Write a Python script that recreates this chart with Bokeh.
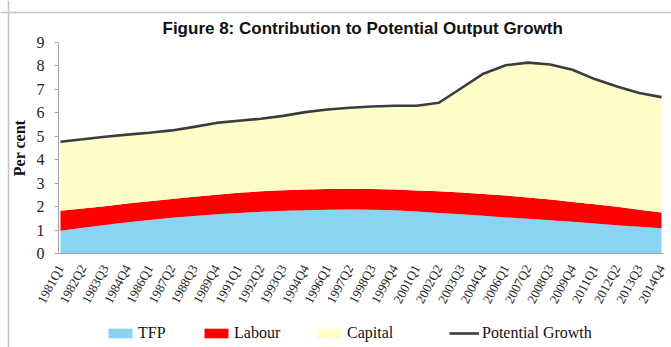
from bokeh.plotting import figure
from bokeh.models import (ColumnDataSource, Range1d, FixedTicker, Legend, LegendItem,
                          Span, Label)
from bokeh.embed import file_html
from bokeh.resources import INLINE

# ---- data ----
quarters = ["1981Q1", "1982Q2", "1983Q3", "1984Q4", "1986Q1", "1987Q2", "1988Q3",
            "1989Q4", "1991Q1", "1992Q2", "1993Q3", "1994Q4", "1996Q1", "1997Q2",
            "1998Q3", "1999Q4", "2001Q1", "2002Q2", "2003Q3", "2004Q4", "2006Q1",
            "2007Q2", "2008Q3", "2009Q4", "2011Q1", "2012Q2", "2013Q3", "2014Q4"]
tfp = [0.97, 1.10, 1.22, 1.33, 1.43, 1.52, 1.60, 1.67, 1.73, 1.78, 1.82, 1.85, 1.87, 1.88,
       1.87, 1.85, 1.79, 1.73, 1.67, 1.61, 1.54, 1.48, 1.42, 1.35, 1.28, 1.20, 1.14, 1.08]
labour = [0.85, 0.82, 0.80, 0.80, 0.80, 0.80, 0.82, 0.84, 0.86, 0.87, 0.88, 0.88, 0.88, 0.88,
          0.88, 0.88, 0.90, 0.92, 0.93, 0.93, 0.93, 0.91, 0.88, 0.85, 0.82, 0.79, 0.73, 0.67]
capital = [2.95, 2.95, 2.96, 2.94, 2.92, 2.93, 2.98, 3.06, 3.07, 3.10, 3.17, 3.30, 3.39, 3.46,
           3.52, 3.57, 3.61, 3.78, 4.45, 5.13, 5.56, 5.75, 5.76, 5.64, 5.34, 5.13, 4.98, 4.92]
potential = [4.77, 4.87, 4.98, 5.07, 5.15, 5.25, 5.40, 5.57, 5.66, 5.75, 5.87, 6.03, 6.14, 6.22,
             6.27, 6.30, 6.30, 6.43, 7.05, 7.67, 8.03, 8.14, 8.06, 7.84, 7.44, 7.12, 6.85, 6.67]
y_ticks = [0, 1, 2, 3, 4, 5, 6, 7, 8, 9]
series_names = ["TFP", "Labour", "Capital", "Potential Growth"]
title_text = "Figure 8: Contribution to Potential Output Growth"

# quarter index derived from the labels
qidx = [(int(s[:4]) - 1981) * 4 + int(s[5]) - 1 for s in quarters]

src = ColumnDataSource(dict(q=qidx, tfp=tfp, labour=labour, capital=capital,
                            potential=potential))

# ---- layout: the plot frame covers the whole canvas ----
W, H = 671, 347
X0_PX, X1_PX = 60.0, 661.0      # pixel of first / last quarter
Y0_PX, Y9_PX = 253.0, 42.0      # pixel of y=0 / y=9
n_q = qidx[-1] - qidx[0]
kx = (X1_PX - X0_PX) / n_q
ky = (Y0_PX - Y9_PX) / 9.0
x_start = qidx[0] - X0_PX / kx
x_end = x_start + W / kx
y_end = Y0_PX / ky
y_start = y_end - H / ky


def xd(px):
    return x_start + px / kx


def yd(py):
    return y_end - py / ky


p = figure(width=W, height=H, output_backend="svg", toolbar_location=None, title=None,
           x_range=Range1d(x_start, x_end), y_range=Range1d(y_start, y_end),
           min_border=0, min_border_left=0, min_border_right=0, min_border_top=0,
           min_border_bottom=0)
p.background_fill_color = "white"
p.border_fill_color = "white"
p.outline_line_color = None
p.xgrid.grid_line_color = None
p.ygrid.grid_line_color = None

# outer frame of the chart box (top and left edges)
p.add_layout(Span(location=yd(12), dimension="width", line_color="#C4C4C4",
                  line_width=1.5, level="underlay"))
p.add_layout(Span(location=xd(8), dimension="height", line_color="#C4C4C4",
                  line_width=1.5, level="underlay"))

areas = p.varea_stack(["tfp", "labour", "capital"], x="q", source=src,
                      color=["#89D3F3", "#FF0000", "#FFFDC9"])
line = p.line("q", "potential", source=src, line_color="#3C3C3C", line_width=2.6)

# title
p.add_layout(Label(x=xd(162), y=yd(18), text=title_text, text_align="left",
                   text_baseline="top", text_font="Liberation Sans",
                   text_font_size="17px", text_font_style="bold", text_color="#111111"))

# y axis
ya = p.yaxis[0]
ya.fixed_location = xd(58)
ya.bounds = (y_ticks[0], y_ticks[-1])
ya.ticker = FixedTicker(ticks=y_ticks)
ya.axis_label = "Per cent"
ya.axis_label_text_font = "Liberation Serif"
ya.axis_label_text_font_style = "bold"
ya.axis_label_text_font_size = "16px"
ya.axis_label_text_color = "#111111"
ya.axis_label_standoff = 6
ya.major_label_text_font = "Liberation Serif"
ya.major_label_text_font_size = "16px"
ya.major_label_text_color = "#222222"
ya.major_label_standoff = 10
ya.axis_line_color = "#A6A6A6"
ya.major_tick_line_color = "#A6A6A6"
ya.major_tick_in = 0
ya.major_tick_out = 4
ya.minor_tick_line_color = None

# x axis
xa = p.xaxis[0]
xa.fixed_location = 0
xa.bounds = (xd(58), xd(663))
xa.ticker = FixedTicker(ticks=qidx)
xa.major_label_overrides = {q: s for q, s in zip(qidx, quarters)}
xa.major_label_orientation = 1.08
xa.major_label_text_font = "Liberation Serif"
xa.major_label_text_font_size = "13px"
xa.major_label_text_color = "#222222"
xa.major_label_standoff = 12
xa.axis_line_color = "#A6A6A6"
xa.major_tick_line_color = None
xa.major_tick_out = 0
xa.major_tick_in = 0
xa.minor_tick_line_color = None

# legend, one entry each, positioned along the bottom
renderers = [areas[0], areas[1], areas[2], line]
legend_left_px = [105, 201, 314, 449]
for lab, rend, lx in zip(series_names, renderers, legend_left_px):
    lg = Legend(items=[LegendItem(label=lab, renderers=[rend])], location=(lx, 5),
                orientation="horizontal", glyph_width=30, glyph_height=12,
                label_standoff=3, padding=0, margin=0, spacing=0,
                border_line_color=None, background_fill_alpha=0,
                label_text_font="Liberation Serif", label_text_font_size="16px",
                label_text_color="#111111")
    p.add_layout(lg, "center")

open("out.html", "w").write(file_html(p, INLINE))
